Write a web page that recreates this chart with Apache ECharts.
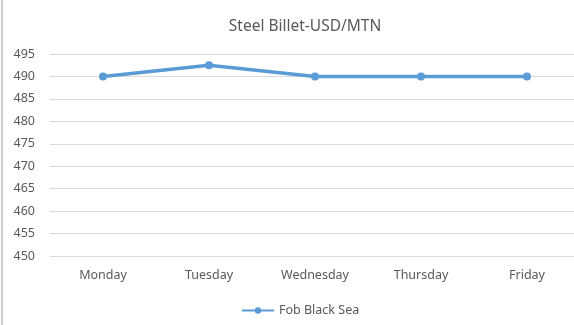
<!DOCTYPE html>
<html><head><meta charset="utf-8">
<script src="https://cdn.jsdelivr.net/npm/echarts@6/dist/echarts.min.js"></script>
<style>html,body{margin:0;padding:0;background:#fff}#c{width:574px;height:325px}</style>
</head><body><div id="c"></div>
<script>
const categories = ['Monday','Tuesday','Wednesday','Thursday','Friday'];
const fobBlackSea = [490, 492.5, 490, 490, 490];
const seriesName = 'Fob Black Sea';
const titleText = 'Steel Billet-USD/MTN';
const yMin = 450, yMax = 495, yStep = 5;

const font = '"Noto Sans", "Open Sans", sans-serif';
const chart = echarts.init(document.getElementById('c'));
chart.setOption({
  animation: false,
  backgroundColor: '#fff',
  title: { text: titleText, left: 300, top: 14, textAlign: 'center',
    textStyle: { fontFamily: font, fontSize: 15.5, fontWeight: 'normal', color: '#595959' } },
  grid: { left: 50, top: 54, width: 530, height: 202, containLabel: false, outerBoundsMode: 'none' },
  xAxis: { type: 'category', data: categories, boundaryGap: true,
    axisLine: { show: true, lineStyle: { color: '#d9d9d9' } }, axisTick: { show: false },
    axisLabel: { fontFamily: font, fontSize: 12.5, color: '#595959', margin: 13 } },
  yAxis: { type: 'value', min: yMin, max: yMax, interval: yStep,
    axisLine: { show: false }, axisTick: { show: false },
    splitLine: { lineStyle: { color: '#d9d9d9' } },
    axisLabel: { fontFamily: font, fontSize: 12.5, color: '#595959', margin: 15 } },
  legend: { data: [seriesName], left: 236, top: 299, itemWidth: 32, itemHeight: 8, itemGap: 4,
    textStyle: { fontFamily: font, fontSize: 12.5, color: '#595959' } },
  graphic: [{ type: 'line', shape: { x1: 2, y1: 0, x2: 2, y2: 325 }, style: { stroke: '#bfbfbf', lineWidth: 1.5 } }],
  series: [{ name: seriesName, type: 'line', data: fobBlackSea, symbol: 'circle', symbolSize: 8,
    lineStyle: { color: '#5B9BD5', width: 3.5 }, itemStyle: { color: '#5B9BD5' } }]
});
</script></body></html>
